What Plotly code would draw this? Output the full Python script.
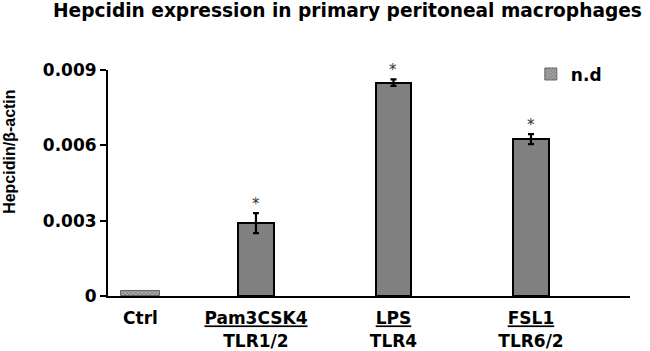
import plotly.graph_objects as go

# ---- data ----
categories = ["Ctrl", "Pam3CSK4", "LPS", "FSL1"]
receptors = ["", "TLR1/2", "TLR4", "TLR6/2"]
values = [0.0002, 0.0029, 0.0085, 0.00625]
errors = [0.0, 0.0004, 0.00013, 0.0002]
significant = [False, True, True, True]
y_ticks = [0, 0.003, 0.006, 0.009]
y_tick_labels = ["0", "0.003", "0.006", "0.009"]

# ---- layout constants ----
x_pos = [0.16, 1.0, 2.0, 3.0]
FONT = "DejaVu Sans"

def tick_text(cat, rec):
    if not rec:
        return "<b>%s</b>" % cat
    return ("<b><span style='text-decoration:underline'>%s</span></b><br><b>%s</b>"
            % (cat, rec))

fig = go.Figure()

# Ctrl (n.d) bar - hatched
fig.add_trace(go.Bar(
    x=[x_pos[0]], y=[values[0]], width=0.28, name="<b>n.d</b>",
    marker=dict(color="#999999", line=dict(color="#666666", width=1),
                pattern=dict(shape="x", size=3, fgcolor="#444444",
                             bgcolor="#aaaaaa", solidity=0.45)),
    showlegend=True,
))

# treated bars
fig.add_trace(go.Bar(
    x=x_pos[1:], y=values[1:], width=0.255,
    marker=dict(color="#808080", line=dict(color="#000000", width=2)),
    error_y=dict(type="data", array=errors[1:], color="#000000",
                 thickness=2.2, width=3),
    showlegend=False,
))

# asterisks
for xp, v, e, s in zip(x_pos, values, errors, significant):
    if s:
        fig.add_annotation(x=xp, y=v + e, text="*", showarrow=False,
                           yanchor="bottom", yshift=-2,
                           font=dict(family=FONT, size=15, color="#333333"))

# y axis title
fig.add_annotation(xref="paper", yref="paper", x=-0.19, y=0.637,
                   text="<b>Hepcidin/β-actin</b>", textangle=-90,
                   showarrow=False, xanchor="center", yanchor="middle",
                   font=dict(family="Liberation Sans", size=16, color="#000"))

# title
fig.add_annotation(xref="paper", yref="paper", x=0.458, y=1.262,
                   text="<b>Hepcidin expression in primary peritoneal macrophages</b>",
                   showarrow=False, xanchor="center", yanchor="middle",
                   font=dict(family=FONT, size=18.6, color="#000"))

fig.update_layout(
    width=650, height=351,
    margin=dict(l=108, r=20, t=70, b=55, autoexpand=False),
    plot_bgcolor="white", paper_bgcolor="white",
    bargap=0,
    font=dict(family=FONT, color="#000"),
    legend=dict(x=0.81, y=1.06, xanchor="left", yanchor="top",
                font=dict(family=FONT, size=17, color="#000"),
                bgcolor="rgba(0,0,0,0)"),
    xaxis=dict(range=[-0.076, 3.72], showgrid=False, zeroline=False,
               showline=True, linecolor="#000", linewidth=2,
               tickmode="array", tickvals=x_pos, automargin=False,
               ticktext=[tick_text(c, r) for c, r in zip(categories, receptors)],
               ticks="", ticklabelstandoff=6,
               tickfont=dict(family=FONT, size=17, color="#000")),
    yaxis=dict(range=[0, 0.009], showgrid=False, zeroline=False,
               showline=True, linecolor="#000", linewidth=2,
               tickmode="array", tickvals=y_ticks, automargin=False,
               ticktext=["<b>%s</b>" % t for t in y_tick_labels],
               ticks="outside", ticklen=6, tickwidth=1.5, tickcolor="#000",
               tickfont=dict(family=FONT, size=17, color="#000")),
)

fig.write_html("out.html")
